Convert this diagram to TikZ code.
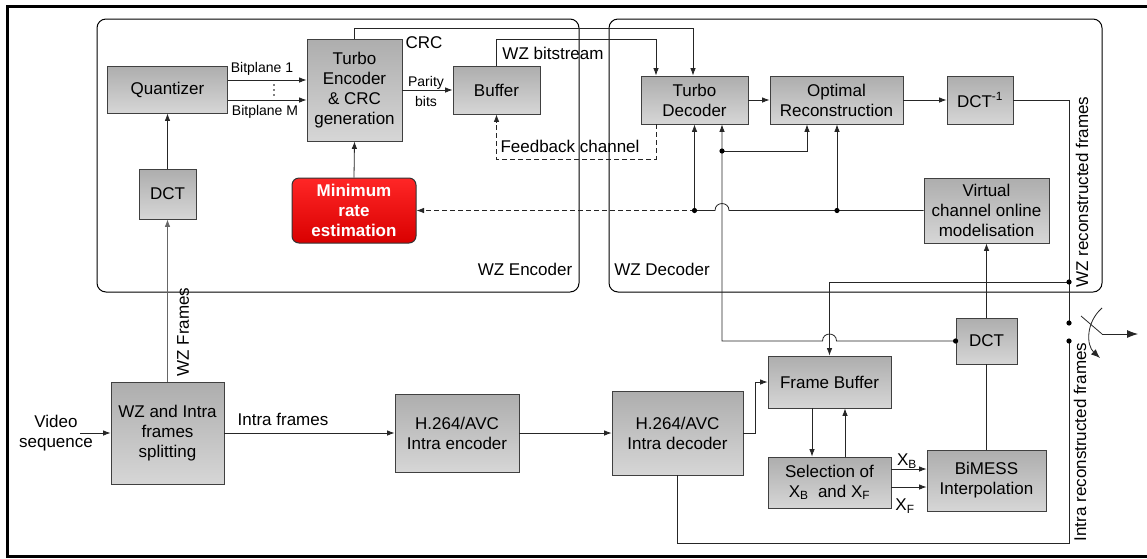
\documentclass[tikz,border=0pt]{standalone}
\usepackage{fontspec}
\setmainfont{Liberation Sans}
\usetikzlibrary{arrows.meta,calc}
\begin{document}
\begin{tikzpicture}[x=1pt,y=-1pt,
  every node/.style={font=\fontsize{17}{20}\selectfont, align=center},
  smalltxt/.style={font=\fontsize{14}{16}\selectfont},
  box/.style={draw=black!75, line width=0.8pt, top color=black!32, bottom color=black!16, inner sep=0pt},
  redbox/.style={draw=black!80, line width=1pt, rounded corners=7pt, top color=red!85!white, bottom color=red!85!black, inner sep=0pt, text=white, font=\fontsize{17}{20}\selectfont\bfseries},
  container/.style={draw=black, line width=1pt, rounded corners=9pt},
  conn/.style={draw=black!85, line width=0.8pt},
  arr/.style={conn, -{Latex[length=7.5pt,width=5.5pt]}},
  bigarr/.style={conn, -{Latex[length=11pt,width=8pt]}},
  dsh/.style={dash pattern=on 5pt off 3pt},
  dotc/.style={fill=black}
]
\useasboundingbox (0,0) rectangle (1147,558);
\fill[white] (0,0) rectangle (1147,558);
\draw[line width=3pt] (7,6) rectangle (1149,556);

% containers
\draw[container] (97,19) rectangle (579,292);
\draw[container] (609,19) rectangle (1102,292);
\node (lenc) at (525,269) {WZ Encoder};
\node (ldec) at (662,269) {WZ Decoder};

% boxes
\node[box, minimum width=120pt, minimum height=47pt] (quant) at (167.5,89.5) {Quantizer};
\node[box, minimum width=57pt, minimum height=50pt] (dcte) at (167.5,194) {DCT};
\node[box, minimum width=95pt, minimum height=102pt] (te) at (354.5,90) {Turbo\\Encoder\\\&~CRC\\generation};
\node[redbox, minimum width=124pt, minimum height=65pt] (mre) at (354,210.5) {Minimum\\rate\\estimation};
\node[box, minimum width=87pt, minimum height=48pt] (buf) at (496.5,90) {Buffer};
\node[box, minimum width=107pt, minimum height=48pt] (td) at (694.5,100) {Turbo\\Decoder};
\node[box, minimum width=133pt, minimum height=48pt] (orc) at (836.5,100) {Optimal\\Reconstruction};
\node[box, minimum width=66pt, minimum height=48pt] (idct) at (980,100) {DCT\textsuperscript{-1}};
\node[box, minimum width=125pt, minimum height=65pt] (vc) at (986.5,210.5) {Virtual\\channel online\\modelisation};
\node[box, minimum width=61pt, minimum height=46pt] (dctd) at (986.5,341) {DCT};
\node[box, minimum width=123pt, minimum height=52pt] (fb) at (829.5,382) {Frame Buffer};
\node[box, minimum width=123pt, minimum height=51pt] (sel) at (829.5,482.5) {Selection of\\X\textsubscript{B}~ and X\textsubscript{F}};
\node[box, minimum width=119pt, minimum height=61pt] (bim) at (986.5,480.5) {BiMESS\\Interpolation};
\node[box, minimum width=113pt, minimum height=102pt] (split) at (167.5,433) {WZ and Intra\\frames\\splitting};
\node[box, minimum width=124pt, minimum height=78pt] (h264e) at (457,433) {H.264/AVC\\Intra encoder};
\node[box, minimum width=131pt, minimum height=84pt] (h264d) at (677.5,433) {H.264/AVC\\Intra decoder};

% coordinates
\coordinate (vin) at (80,433);
\coordinate (jwz) at (1069,282);
\coordinate (sw1) at (1069,323);
\coordinate (sw2) at (1069,341);
\coordinate (ic) at (1069,543);
\coordinate (jtd) at (722,151);
\coordinate (jorc) at (837,210.5);
\coordinate (jtd2) at (694.5,210.5);
\coordinate (swa) at (1081,316);
\coordinate (swb) at (1102,334);
\coordinate (swo) at (1138,334);
\coordinate (arcs) at (1102,308);
\coordinate (arce) at (1100,358);

% encoder side
\node (lvid) at (56,433) {Video\\sequence};
\draw[arr] (vin) -- (split.west);
\draw[arr, draw=black!60] (split.north) -- (dcte.south);
\node[rotate=90] (lwzf) at (183,332) {WZ Frames};
\draw[arr] (dcte.north) -- (quant.south);
\draw[arr] (quant.east |- 0,80) -- (te.west |- 0,80);
\draw[arr] (quant.east |- 0,100) -- (te.west |- 0,100);
\node[smalltxt] (lbp1) at (262,69) {Bitplane 1};
\node[smalltxt] (lbpm) at (265,112) {Bitplane M};
\foreach \yy in {85,90,95} \fill (274,\yy) circle (0.8pt);
\draw[arr] (te.east) -- (buf.west);
\node[smalltxt] (lpar) at (426,83) {Parity};
\node[smalltxt] (lbits) at (426,101) {bits};
\draw[arr] (mre.north) -- (te.south);

% CRC and bitstream
\draw[arr] (te.north) -- ++(0,-10) -| ($(td.north)+(-1.5,0)$);
\node (lcrc) at (424,43) {CRC};
\draw[arr] (buf.north) -- ++(0,-26) -| ($(td.north)+(-38.5,0)$);
\node (lbs) at (553,53) {WZ bitstream};
\draw[arr, dsh] ($(td.south)+(-38.5,0)$) -- ++(0,35) -| (buf.south);
\node (lfb) at (570,146) {Feedback channel};

% decoder chain
\draw[arr] (td.east) -- (orc.west);
\draw[arr] (orc.east) -- (idct.west);
\draw[conn] (idct.east) -| (sw1);
\draw[arr] (jwz) -| (fb.north);
\node[rotate=90] (lwzr) at (1082,192) {WZ reconstructed frames};

% side information lines
\draw[arr] (dctd.west) -- (836.5,341) .. controls (836.5,331.7) and (822.5,331.7) .. (822.5,341) -| ($(td.south)+(27.5,0)$);
\draw[arr] (jtd) -| ($(orc.south)+(-29.5,0)$);
\draw[conn] (vc.west) -- (729,210.5) .. controls (729,201.2) and (715,201.2) .. (715,210.5) -- (jtd2);
\draw[arr] (jorc) -- (jorc |- orc.south);
\draw[arr] (jtd2) -- (td.south);
\draw[arr, dsh] (jtd2) -- (mre.east);
\draw[arr] (dctd.north) -- (vc.south);
\draw[conn] (dctd.south) -- (bim.north);

% intra path
\draw[arr] (split.east) -- (h264e.west);
\node (lintra) at (283,419) {Intra frames};
\draw[arr] (h264e.east) -- (h264d.west);
\draw[arr] (h264d.east) -- ++(12,0) |- (fb.west);
\draw[arr] ($(fb.south)+(-17.5,0)$) -- ($(sel.north)+(-17.5,0)$);
\draw[arr] ($(sel.north)+(15.5,0)$) -- ($(fb.south)+(15.5,0)$);
\draw[arr] (sel.east |- 0,469) -- (bim.west |- 0,469);
\draw[arr] (sel.east |- 0,487) -- (bim.west |- 0,487);
\node (lxb) at (907,461) {X\textsubscript{B}};
\node (lxf) at (905,506) {X\textsubscript{F}};
\draw[conn] (h264d.south) |- (ic) -- (sw2);
\node[rotate=90] (lir) at (1080,442) {Intra reconstructed frames};

% switch
\draw[conn] (swa) -- (swb);
\draw[bigarr] (swb) -- (swo);
\draw[conn, -{Latex[length=9pt,width=7pt]}] (arcs) .. controls (1086,322) and (1086,345) .. (arce);

% dots
\foreach \p in {jwz,sw1,sw2,jtd,jorc,jtd2,dctd.west}
  \fill[dotc] (\p) circle (2.6pt);
\end{tikzpicture}
\end{document}
